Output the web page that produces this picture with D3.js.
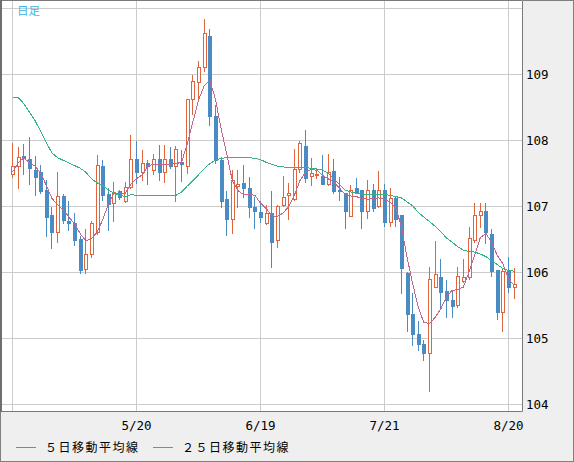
<!DOCTYPE html>
<html>
<head>
<meta charset="utf-8">
<script src="https://cdn.jsdelivr.net/npm/d3@7"></script>
<style>
  body { margin: 0; background: #efefef; }
  svg { display: block; }
  .lbl { font-family: "DejaVu Sans Mono", monospace; font-size: 12.5px; fill: #000; }
  .leg { font-family: "Noto Sans CJK JP", sans-serif; font-size: 12px; fill: #000; letter-spacing: 1.5px; }
</style>
</head>
<body>
<div id="chart"></div>
<script>
'use strict';

// daily candles, 4/20 .. 8/21
const opens = [107.49,107.60,107.76,107.71,107.55,107.51,107.24,106.86,106.60,107.15,
  106.77,106.75,106.50,106.04,106.27,106.60,107.61,107.18,107.04,107.22,
  107.07,107.29,107.71,107.52,107.65,107.54,107.71,107.51,107.71,107.60,
  107.66,107.61,108.62,108.88,109.11,109.57,108.37,107.69,107.10,106.81,
  107.30,107.35,107.28,106.99,106.91,106.74,106.89,106.48,107.01,107.16,
  107.11,107.56,107.91,107.45,107.47,107.45,107.34,107.53,107.24,107.19,
  106.85,107.27,107.24,106.92,107.24,107.00,107.24,106.76,107.12,106.86,
  105.98,105.37,105.06,104.91,104.77,105.77,105.93,105.71,105.57,105.50,
  105.86,105.92,106.49,106.86,106.92,106.58,106.03,105.40,106.02,105.78];
const highs = [107.95,107.90,107.94,108.04,107.76,107.62,107.39,106.99,107.51,107.18,
  107.08,106.90,106.55,106.65,106.78,107.77,107.70,107.27,107.37,107.25,
  107.37,108.08,107.98,107.85,107.70,107.79,107.92,107.92,107.89,107.91,
  107.85,108.62,108.98,109.20,109.84,109.68,108.53,107.75,107.23,107.55,
  107.55,107.62,107.44,107.14,107.07,107.02,107.23,107.01,107.45,107.35,
  107.87,107.98,108.15,107.72,107.56,107.77,107.79,107.71,107.44,107.19,
  107.32,107.42,107.25,107.39,107.34,107.53,107.34,107.28,107.14,106.86,
  106.00,105.68,105.25,104.97,106.07,106.47,106.20,105.88,105.73,106.07,
  106.20,106.68,107.04,107.05,107.05,106.65,106.03,106.05,106.22,106.06];
const lows = [107.44,107.28,107.49,107.34,107.17,107.20,106.55,106.36,106.45,106.75,
  106.64,106.41,105.98,105.98,106.22,106.58,107.09,106.64,106.78,107.10,
  107.06,107.28,107.35,107.39,107.34,107.49,107.39,107.37,107.57,107.08,
  107.38,107.50,108.40,108.62,109.04,108.23,107.65,106.99,106.56,106.59,
  106.99,107.14,106.84,106.66,106.76,106.73,106.08,106.38,107.00,106.80,
  107.09,107.52,107.37,107.32,107.43,107.34,107.32,107.20,107.09,106.66,
  106.85,107.19,106.66,106.82,106.93,106.99,106.69,106.70,106.69,105.68,
  105.10,104.90,104.82,104.67,104.19,105.77,105.47,105.32,105.32,105.47,
  105.85,105.90,106.46,106.68,106.44,105.94,105.29,105.10,105.70,105.60];
const closes = [107.61,107.74,107.72,107.57,107.44,107.22,106.84,106.60,107.15,106.79,
  106.75,106.48,106.03,106.28,106.74,107.62,107.17,107.03,107.21,107.14,
  107.29,107.71,107.52,107.65,107.60,107.71,107.51,107.71,107.61,107.87,
  107.63,108.62,108.89,109.10,109.62,108.37,107.69,107.08,106.80,107.40,
  107.34,107.28,106.98,106.93,106.84,106.89,106.45,107.00,107.14,107.19,
  107.56,107.95,107.43,107.50,107.48,107.34,107.52,107.22,107.22,106.93,
  107.25,107.21,106.92,107.24,106.97,107.24,106.76,107.12,106.81,106.06,
  105.37,105.06,104.91,104.77,105.89,105.97,105.70,105.57,105.49,105.94,
  105.92,106.51,106.86,106.92,106.61,106.02,105.40,106.02,105.78,105.82];

// moving averages
const ma5 = [107.52,107.66,107.74,107.66,107.61,107.51,107.32,107.12,107.03,106.95,
  106.84,106.74,106.59,106.48,106.51,106.61,106.80,107.03,107.20,107.20,
  107.20,107.34,107.42,107.48,107.61,107.64,107.63,107.63,107.64,107.65,
  107.67,107.95,108.28,108.61,108.83,108.91,108.63,108.18,107.80,107.39,
  107.24,107.18,107.18,107.17,107.05,106.97,106.86,106.85,106.90,107.00,
  107.17,107.39,107.52,107.56,107.55,107.47,107.42,107.37,107.28,107.19,
  107.16,107.15,107.12,107.11,107.12,107.13,107.11,107.07,106.98,106.70,
  106.23,105.83,105.47,105.24,105.23,105.32,105.45,105.63,105.73,105.74,
  105.78,106.01,106.26,106.53,106.59,106.46,106.26,106.13,105.91,105.80];
const ma25 = [108.65,108.65,108.56,108.43,108.30,108.14,107.97,107.81,107.74,107.70,
  107.66,107.62,107.58,107.52,107.42,107.36,107.32,107.25,107.20,107.17,
  107.15,107.18,107.17,107.17,107.17,107.17,107.17,107.17,107.17,107.17,
  107.22,107.31,107.39,107.48,107.57,107.65,107.70,107.73,107.74,107.74,
  107.74,107.74,107.74,107.73,107.71,107.67,107.64,107.61,107.60,107.59,
  107.59,107.59,107.59,107.58,107.57,107.55,107.51,107.42,107.33,107.25,
  107.22,107.20,107.19,107.18,107.18,107.18,107.18,107.17,107.15,107.13,
  107.07,107.01,106.91,106.84,106.77,106.70,106.62,106.52,106.46,106.39,
  106.34,106.32,106.31,106.28,106.24,106.18,106.12,106.06,106.03,106.02];

const xTickIdx = [0, 22, 44, 66, 88];
const xTickLabels = ['', '5/20', '6/19', '7/21', '8/20'];
const yTicks = [104, 105, 106, 107, 108, 109, 110];

const upColor = '#e0643c', downColor = '#4b8bc3';
const ma5Color = '#c0668f', ma25Color = '#34b47e';

function drawChart(container) {
    let W = 574, H = 462;
    let plot = {left: 1, top: 0, right: 523, bottom: 412};

    let svg = d3.select(container).append('svg')
                .attr('width', W).attr('height', H);

    svg.append('rect').attr('x', 0.5).attr('y', 0.5)
       .attr('width', W - 1).attr('height', H - 1)
       .attr('fill', '#efefef').attr('stroke', '#808080');

    svg.append('rect').attr('x', plot.left).attr('y', plot.top)
       .attr('width', plot.right - plot.left).attr('height', plot.bottom - plot.top)
       .attr('fill', '#fff');

    let x = d3.scaleLinear().domain([0, 88]).range([12.5, 508.5]);
    let y = d3.scaleLinear().domain([104, 110]).range([404.5, 8.5]);
    let px = i => Math.round(x(i) - 0.5);
    let py = v => Math.round(y(v) - 0.5);

    // grid
    let grid = svg.append('g').attr('stroke', '#cccccc').attr('shape-rendering', 'crispEdges');
    grid.selectAll('.vg').data(xTickIdx).enter().append('line')
        .attr('x1', d => x(d)).attr('x2', d => x(d))
        .attr('y1', plot.top).attr('y2', plot.bottom);
    grid.selectAll('.hg').data(yTicks).enter().append('line')
        .attr('x1', plot.left).attr('x2', plot.right)
        .attr('y1', d => y(d)).attr('y2', d => y(d));

    svg.append('defs').append('clipPath').attr('id', 'clip')
       .append('rect').attr('x', plot.left).attr('y', plot.top)
       .attr('width', plot.right - plot.left).attr('height', plot.bottom - plot.top);

    let g = svg.append('g').attr('clip-path', 'url(#clip)').attr('shape-rendering', 'crispEdges');
    let candles = g.selectAll('.c').data(d3.range(opens.length)).enter().append('g');

    candles.append('line')
           .attr('x1', i => px(i) + 0.5).attr('x2', i => px(i) + 0.5)
           .attr('y1', i => py(highs[i])).attr('y2', i => py(lows[i]) + 1)
           .attr('stroke', i => closes[i] >= opens[i] ? upColor : downColor);

    candles.filter(i => closes[i] < opens[i]).append('rect')
           .attr('x', i => px(i) - 1).attr('width', 4)
           .attr('y', i => py(opens[i]))
           .attr('height', i => Math.max(1, py(closes[i]) - py(opens[i]) + 1))
           .attr('fill', downColor);

    candles.filter(i => closes[i] >= opens[i]).append('rect')
           .attr('x', i => px(i) - 0.5).attr('width', 3)
           .attr('y', i => py(closes[i]) + 0.5)
           .attr('height', i => Math.max(0, py(opens[i]) - py(closes[i])))
           .attr('fill', '#fff').attr('stroke', upColor);

    // moving averages, aliased like the original
    let line = d3.line().x((d, i) => x(i)).y(d => y(d));
    let lg = svg.append('g').attr('clip-path', 'url(#clip)').attr('shape-rendering', 'crispEdges');
    lg.append('path').attr('d', line(ma25)).attr('fill', 'none')
      .attr('stroke', ma25Color).attr('stroke-width', 1);
    lg.append('path').attr('d', line(ma5)).attr('fill', 'none')
      .attr('stroke', ma5Color).attr('stroke-width', 1);

    // plot frame
    svg.append('path')
       .attr('d', `M${plot.left},${plot.bottom - 0.5}H${plot.right - 0.5}V0.5H${plot.left}`)
       .attr('fill', 'none').attr('stroke', '#7a7a7a');
    svg.append('line').attr('x1', 1).attr('x2', 1).attr('y1', 0).attr('y2', plot.bottom)
       .attr('stroke', '#6e6e6e').attr('stroke-width', 2);

    // axes labels
    svg.selectAll('.yl').data(yTicks.filter(d => d < 110)).enter().append('text')
       .attr('class', 'lbl').attr('x', 526).attr('y', d => y(d))
       .attr('dy', '0.36em').text(d => d);
    svg.selectAll('.xl').data(xTickIdx).enter().append('text')
       .attr('class', 'lbl').attr('x', d => x(d)).attr('y', 429.5)
       .attr('text-anchor', 'middle').text((d, i) => xTickLabels[i]);

    svg.append('text').attr('x', 17).attr('y', 15)
       .attr('fill', '#3cb6e8').style('font-family', '"Noto Sans CJK JP", sans-serif')
       .style('font-size', '11.5px').text('日足');

    // legend
    let legend = [{c: ma5Color, t: '５日移動平均線', x: 16}, {c: ma25Color, t: '２５日移動平均線', x: 153}];
    legend.forEach(l => {
        svg.append('line').attr('x1', l.x).attr('x2', l.x + 20)
           .attr('y1', 447.5).attr('y2', 447.5).attr('stroke', l.c);
        svg.append('text').attr('class', 'leg').attr('x', l.x + 29).attr('y', 452).text(l.t);
    });
}

drawChart(document.getElementById('chart'));
</script>
</body>
</html>
